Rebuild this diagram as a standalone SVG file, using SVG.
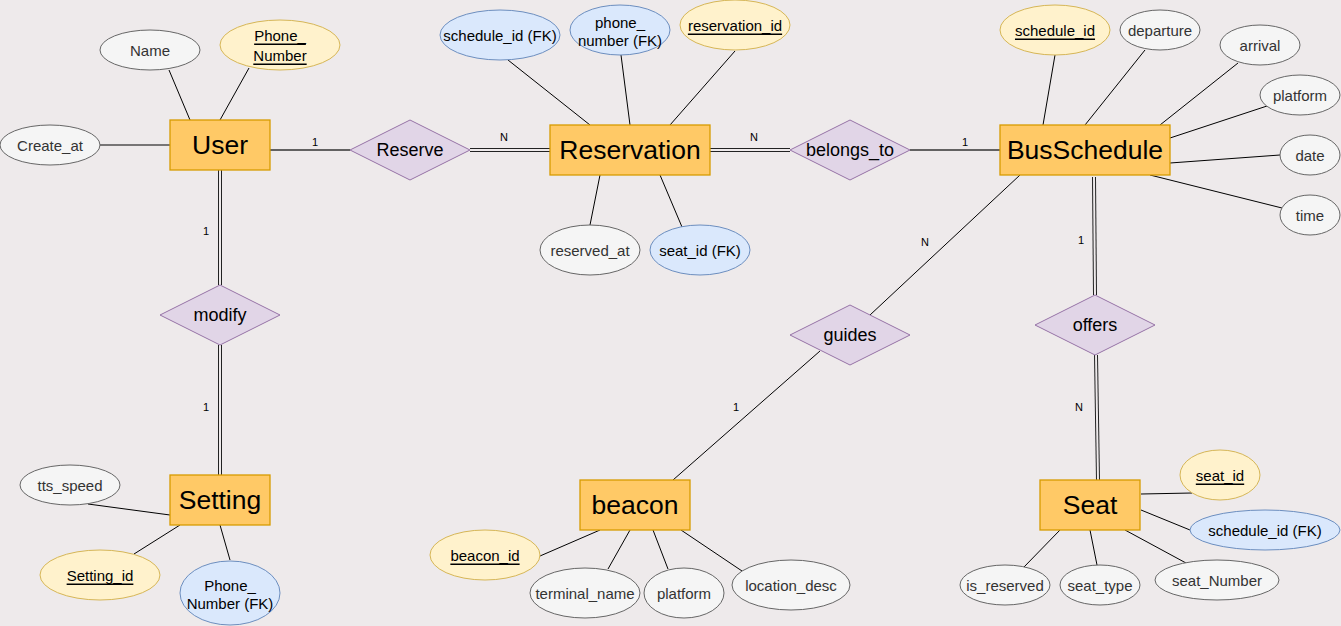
<svg xmlns="http://www.w3.org/2000/svg" width="1341" height="626" viewBox="0 0 1341 626">
<style>
text{font-family:"Liberation Sans",Arial,sans-serif;text-anchor:middle;dominant-baseline:central}
.ent{fill:#FFC966;stroke:#D79B00;stroke-width:1.3}
.entt{font-size:26.5px;fill:#000}
.rel{fill:#E1D5E7;stroke:#9673A6;stroke-width:1}
.relt{font-size:18px;fill:#000}
.g{fill:#F5F5F5;stroke:#666;stroke-width:1}
.y{fill:#FFF2CC;stroke:#D6B656;stroke-width:1}
.b{fill:#DAE8FC;stroke:#6C8EBF;stroke-width:1}
.at{font-size:15px;fill:#000}
.gt{font-size:15px;fill:#333}
.k{text-decoration:underline}
.ln{stroke:#000;stroke-width:1;fill:none}
.rl{stroke:#333;stroke-width:1.3;fill:none}
.d1{stroke:#222;stroke-width:4;fill:none}
.d2{stroke:#EEEAEB;stroke-width:2;fill:none}
.card{font-size:11px;fill:#000}
</style>
<rect width="1341" height="626" fill="#EEEAEB"/>
<g id="connectors">
<line class="ln" x1="169" y1="70" x2="190" y2="120"/>
<line class="ln" x1="249" y1="68" x2="220" y2="120"/>
<line class="ln" x1="100" y1="145" x2="170" y2="145"/>
<line class="rl" x1="270" y1="150" x2="350" y2="150"/>
<path class="d1" d="M470 150H550"/><path class="d2" d="M470 150H550"/>
<line class="ln" x1="508" y1="60" x2="590" y2="125"/>
<line class="ln" x1="621" y1="55" x2="630" y2="125"/>
<line class="ln" x1="735" y1="51" x2="670" y2="125"/>
<line class="ln" x1="600" y1="175" x2="590" y2="225"/>
<line class="ln" x1="660" y1="175" x2="682" y2="227"/>
<path class="d1" d="M710 150H790"/><path class="d2" d="M710 150H790"/>
<line class="rl" x1="910" y1="150" x2="1000" y2="150"/>
<line class="ln" x1="1055" y1="55" x2="1043" y2="125"/>
<line class="ln" x1="1145" y1="50" x2="1085" y2="125"/>
<line class="ln" x1="1238" y1="63" x2="1160" y2="125"/>
<line class="ln" x1="1267" y1="106" x2="1170" y2="138"/>
<line class="ln" x1="1280" y1="155" x2="1170" y2="163"/>
<line class="ln" x1="1282" y1="208" x2="1150" y2="175"/>
<line class="ln" x1="1020" y1="175" x2="870" y2="315"/>
<line class="ln" x1="820" y1="351" x2="673" y2="480"/>
<line class="ln" x1="540" y1="556" x2="600" y2="530"/>
<line class="ln" x1="608" y1="569" x2="630" y2="530"/>
<line class="ln" x1="668" y1="569" x2="653" y2="530"/>
<line class="ln" x1="742" y1="571" x2="681" y2="530"/>
<path class="d1" d="M1094 177L1095 295"/><path class="d2" d="M1094 177L1095 295"/>
<path class="d1" d="M1096 355L1098 480"/><path class="d2" d="M1096 355L1098 480"/>
<line class="ln" x1="1141" y1="494" x2="1192" y2="493"/>
<line class="ln" x1="1141" y1="510" x2="1190" y2="530"/>
<line class="ln" x1="1060" y1="530" x2="1024" y2="567"/>
<line class="ln" x1="1090" y1="530" x2="1097" y2="565"/>
<line class="ln" x1="1125" y1="530" x2="1186" y2="563"/>
<path class="d1" d="M220 170V285"/><path class="d2" d="M220 170V285"/>
<path class="d1" d="M220 345V475"/><path class="d2" d="M220 345V475"/>
<line class="ln" x1="88" y1="504" x2="170" y2="515"/>
<line class="ln" x1="134" y1="554" x2="180" y2="525"/>
<line class="ln" x1="230" y1="560" x2="220" y2="525"/>
<text class="card" x="315" y="142">1</text>
<text class="card" x="504" y="137">N</text>
<text class="card" x="754" y="137">N</text>
<text class="card" x="965" y="142">1</text>
<text class="card" x="925" y="242">N</text>
<text class="card" x="736" y="407">1</text>
<text class="card" x="1081" y="240">1</text>
<text class="card" x="1079" y="407">N</text>
<text class="card" x="206" y="231">1</text>
<text class="card" x="206" y="407">1</text>
</g>
<g id="User"><rect class="ent" x="170" y="120" width="100" height="50"/><text class="entt" x="220" y="145">User</text></g>
<g id="attr-Name"><ellipse class="g" cx="150" cy="50" rx="50" ry="20"/><text class="gt" x="150" y="50">Name</text></g>
<g id="attr-Phone_Number"><ellipse class="y" cx="280" cy="45" rx="60" ry="25"/><text class="at k" x="280" y="35">Phone_</text><text class="at k" x="280" y="55">Number</text></g>
<g id="attr-Create_at"><ellipse class="g" cx="50" cy="145" rx="50" ry="20"/><text class="gt" x="50" y="145">Create_at</text></g>
<g id="Reserve"><polygon class="rel" points="350,150 410,120 470,150 410,180"/><text class="relt" x="410" y="150">Reserve</text></g>
<g id="Reservation"><rect class="ent" x="550" y="125" width="160" height="50"/><text class="entt" x="630" y="150">Reservation</text></g>
<g id="attr-res-schedule_id"><ellipse class="b" cx="500" cy="35" rx="60" ry="25"/><text class="at" x="500" y="35">schedule_id (FK)</text></g>
<g id="attr-res-phone_number"><ellipse class="b" cx="620" cy="30" rx="50" ry="25"/><text class="at" x="620" y="22">phone_</text><text class="at" x="620" y="40">number (FK)</text></g>
<g id="attr-reservation_id"><ellipse class="y" cx="735" cy="25" rx="55" ry="25"/><text class="at k" x="735" y="25">reservation_id</text></g>
<g id="attr-reserved_at"><ellipse class="g" cx="590" cy="250" rx="50" ry="25"/><text class="gt" x="590" y="250">reserved_at</text></g>
<g id="attr-res-seat_id"><ellipse class="b" cx="700" cy="250" rx="50" ry="25"/><text class="at" x="700" y="250">seat_id (FK)</text></g>
<g id="belongs_to"><polygon class="rel" points="790,150 850,120 910,150 850,180"/><text class="relt" x="850" y="150">belongs_to</text></g>
<g id="BusSchedule"><rect class="ent" x="1000" y="125" width="170" height="50"/><text class="entt" x="1085" y="150">BusSchedule</text></g>
<g id="attr-schedule_id"><ellipse class="y" cx="1055" cy="30" rx="55" ry="25"/><text class="at k" x="1055" y="30">schedule_id</text></g>
<g id="attr-departure"><ellipse class="g" cx="1160" cy="30" rx="40" ry="20"/><text class="gt" x="1160" y="30">departure</text></g>
<g id="attr-arrival"><ellipse class="g" cx="1260" cy="45" rx="40" ry="20"/><text class="gt" x="1260" y="45">arrival</text></g>
<g id="attr-bs-platform"><ellipse class="g" cx="1300" cy="95" rx="40" ry="20"/><text class="gt" x="1300" y="95">platform</text></g>
<g id="attr-date"><ellipse class="g" cx="1310" cy="155" rx="30" ry="20"/><text class="gt" x="1310" y="155">date</text></g>
<g id="attr-time"><ellipse class="g" cx="1310" cy="215" rx="30" ry="20"/><text class="gt" x="1310" y="215">time</text></g>
<g id="guides"><polygon class="rel" points="790,335 850,305 910,335 850,365"/><text class="relt" x="850" y="335">guides</text></g>
<g id="beacon"><rect class="ent" x="580" y="480" width="110" height="50"/><text class="entt" x="635" y="505">beacon</text></g>
<g id="attr-beacon_id"><ellipse class="y" cx="485" cy="555" rx="55" ry="25"/><text class="at k" x="485" y="555">beacon_id</text></g>
<g id="attr-terminal_name"><ellipse class="g" cx="585" cy="593" rx="55" ry="25"/><text class="gt" x="585" y="593">terminal_name</text></g>
<g id="attr-bc-platform"><ellipse class="g" cx="684" cy="593" rx="40" ry="25"/><text class="gt" x="684" y="593">platform</text></g>
<g id="attr-location_desc"><ellipse class="g" cx="791" cy="585" rx="59" ry="25"/><text class="gt" x="791" y="585">location_desc</text></g>
<g id="offers"><polygon class="rel" points="1035,325 1095,295 1155,325 1095,355"/><text class="relt" x="1095" y="325">offers</text></g>
<g id="Seat"><rect class="ent" x="1040" y="480" width="100" height="50"/><text class="entt" x="1090" y="505">Seat</text></g>
<g id="attr-seat_id"><ellipse class="y" cx="1220" cy="475" rx="40" ry="25"/><text class="at k" x="1220" y="475">seat_id</text></g>
<g id="attr-seat-schedule_id"><ellipse class="b" cx="1265" cy="530" rx="75" ry="20"/><text class="at" x="1265" y="530">schedule_id (FK)</text></g>
<g id="attr-is_reserved"><ellipse class="g" cx="1005" cy="585" rx="45" ry="20"/><text class="gt" x="1005" y="585">is_reserved</text></g>
<g id="attr-seat_type"><ellipse class="g" cx="1100" cy="585" rx="40" ry="20"/><text class="gt" x="1100" y="585">seat_type</text></g>
<g id="attr-seat_Number"><ellipse class="g" cx="1217" cy="580" rx="62" ry="20"/><text class="gt" x="1217" y="580">seat_Number</text></g>
<g id="modify"><polygon class="rel" points="160,315 220,285 280,315 220,345"/><text class="relt" x="220" y="315">modify</text></g>
<g id="Setting"><rect class="ent" x="170" y="475" width="100" height="50"/><text class="entt" x="220" y="500">Setting</text></g>
<g id="attr-tts_speed"><ellipse class="g" cx="70" cy="485" rx="50" ry="20"/><text class="gt" x="70" y="485">tts_speed</text></g>
<g id="attr-Setting_id"><ellipse class="y" cx="100" cy="575" rx="60" ry="25"/><text class="at k" x="100" y="575">Setting_id</text></g>
<g id="attr-set-Phone_Number"><ellipse class="b" cx="230" cy="593" rx="50" ry="32"/><text class="at" x="230" y="585">Phone_</text><text class="at" x="230" y="603">Number (FK)</text></g>
</svg>
